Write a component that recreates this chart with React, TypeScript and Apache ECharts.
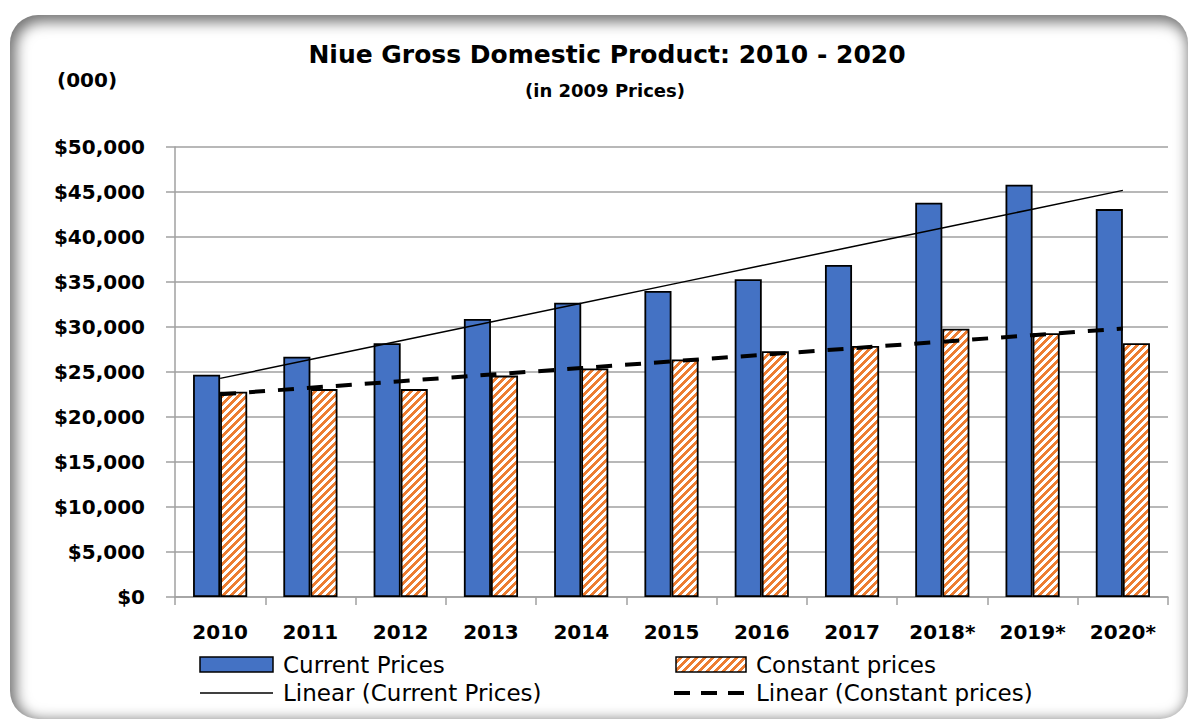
import React, { useEffect, useRef } from "react";
import * as echarts from "echarts";

const categories = ["2010", "2011", "2012", "2013", "2014", "2015", "2016", "2017", "2018*", "2019*", "2020*"];
const currentPrices = [24700, 26700, 28200, 30900, 32700, 34000, 35300, 36900, 43800, 45800, 43100];
const constantPrices = [22800, 23100, 23100, 24600, 25400, 26400, 27300, 27900, 29800, 29300, 28200];
const yTicks = { min: 0, max: 50000, interval: 5000 };

const titleText = "Niue Gross Domestic Product: 2010 - 2020";
const subtitleText = "(in 2009 Prices)";
const unitText = "(000)";
const legendNames = ["Current Prices", "Constant prices", "Linear (Current Prices)", "Linear (Constant prices)"];

// Least-squares linear trend (as a spreadsheet trendline does)
function linearTrend(vals: number[]): number[] {
  const n = vals.length;
  const mx = (n - 1) / 2;
  const my = vals.reduce((a, b) => a + b, 0) / n;
  let sxy = 0, sxx = 0;
  vals.forEach((v, i) => { sxy += (i - mx) * (v - my); sxx += (i - mx) * (i - mx); });
  const slope = sxy / sxx;
  return vals.map((_, i) => my + slope * (i - mx));
}

const BLUE = "#4472C4";

function makePattern() {
  const size = 8;
  const c = document.createElement("canvas");
  c.width = size; c.height = size;
  const ctx = c.getContext("2d")!;
  const img = ctx.createImageData(size, size);
  for (let y = 0; y < size; y++) {
    for (let x = 0; x < size; x++) {
      const on = (x + y) % size < 4;
      const i = (y * size + x) * 4;
      img.data[i] = on ? 0xed : 255;
      img.data[i + 1] = on ? 0x7d : 255;
      img.data[i + 2] = on ? 0x31 : 255;
      img.data[i + 3] = 255;
    }
  }
  ctx.putImageData(img, 0, 0);
  return { image: c, repeat: "repeat", imageWidth: size, imageHeight: size } as any;
}

export default function App() {
  const ref = useRef<HTMLDivElement>(null);
  useEffect(() => {
    if (!ref.current) return;
    const chart = echarts.init(ref.current, null, { renderer: "svg" });
    const pattern = makePattern();
    const pattern2 = makePattern();
    const labelFont = "DejaVu Sans";
    const legendFont = "DejaVu Sans";
    chart.setOption({
      animation: false,
      backgroundColor: "transparent",
      grid: { left: 175, right: 22, top: 147, bottom: 123, containLabel: false },
      xAxis: {
        type: "category",
        data: categories,
        axisLine: { lineStyle: { color: "#A0A0A0", width: 1.5 } },
        axisTick: { show: true, length: 8, lineStyle: { color: "#A0A0A0", width: 1.5 } },
        axisLabel: { color: "#000", fontWeight: "bold", fontSize: 20, fontFamily: labelFont, margin: 25, interval: 0 },
      },
      yAxis: {
        type: "value",
        min: yTicks.min,
        max: yTicks.max,
        interval: yTicks.interval,
        axisLine: { show: true, lineStyle: { color: "#A0A0A0", width: 1.5 } },
        axisTick: { show: true, length: 9, lineStyle: { color: "#A0A0A0", width: 1.5 } },
        splitLine: { lineStyle: { color: "#A0A0A0", width: 1.5 } },
        axisLabel: {
          color: "#000", fontWeight: "bold", fontSize: 20, fontFamily: labelFont, margin: 30,
          formatter: (v: number) => "$" + v.toLocaleString("en-US"),
        },
      },
      series: [
        {
          name: legendNames[0], type: "bar", data: currentPrices,
          barGap: "0%", barCategoryGap: "40%",
          itemStyle: { color: BLUE, borderColor: "#000", borderWidth: 1.8 },
          z: 2,
        },
        {
          name: legendNames[1], type: "bar", data: constantPrices,
          itemStyle: { color: pattern, borderColor: "#000", borderWidth: 1.8 },
          z: 2,
        },
        {
          name: legendNames[2], type: "line", data: linearTrend(currentPrices),
          symbol: "none", lineStyle: { color: "#000", width: 1.5 }, z: 5,
        },
        {
          name: legendNames[3], type: "line", data: linearTrend(constantPrices),
          symbol: "none", lineStyle: { color: "#000", width: 4, type: [16, 13] }, z: 5,
        },
      ],
      graphic: [
        { type: "text", x: 607, y: 54, style: { text: titleText, fill: "#000", font: "bold 25px 'DejaVu Sans'", textAlign: "center", textVerticalAlign: "middle" } },
        { type: "text", x: 605, y: 90, style: { text: subtitleText, fill: "#000", font: "bold 18px 'DejaVu Sans'", textAlign: "center", textVerticalAlign: "middle" } },
        { type: "text", x: 57, y: 80, style: { text: unitText, fill: "#000", font: "bold 20px 'DejaVu Sans'", textAlign: "left", textVerticalAlign: "middle" } },
        // legend
        { type: "rect", shape: { x: 200, y: 657, width: 73, height: 15 }, style: { fill: BLUE, stroke: "#000", lineWidth: 1.5 } },
        { type: "text", x: 283, y: 665, style: { text: legendNames[0], fill: "#000", font: `23px '${legendFont}'`, textVerticalAlign: "middle" } },
        { type: "rect", shape: { x: 676, y: 657, width: 70, height: 15 }, style: { fill: pattern2, stroke: "#000", lineWidth: 1.5 } },
        { type: "text", x: 756, y: 665, style: { text: legendNames[1], fill: "#000", font: `23px '${legendFont}'`, textVerticalAlign: "middle" } },
        { type: "line", shape: { x1: 200, y1: 693, x2: 273, y2: 693 }, style: { stroke: "#000", lineWidth: 1.5 } },
        { type: "text", x: 283, y: 693, style: { text: legendNames[2], fill: "#000", font: `23px '${legendFont}'`, textVerticalAlign: "middle" } },
        { type: "line", shape: { x1: 674, y1: 693, x2: 748, y2: 693 }, style: { stroke: "#000", lineWidth: 4, lineDash: [16, 11] } },
        { type: "text", x: 756, y: 693, style: { text: legendNames[3], fill: "#000", font: `23px '${legendFont}'`, textVerticalAlign: "middle" } },
      ],
    });
    return () => chart.dispose();
  }, []);

  return (
    <div style={{ position: "absolute", left: 0, top: 0, width: 1190, height: 720, overflow: "hidden", background: "#fff" }}>
      <div
        style={{
          position: "absolute", left: 10, top: 15, width: 1178, height: 704,
          borderRadius: 28, background: "#fff",
          boxShadow: "inset 3px 4px 14px 3px rgba(0,0,0,0.55)",
        }}
      />
      <div ref={ref} style={{ position: "absolute", left: 0, top: 0, width: 1190, height: 720 }} />
    </div>
  );
}
